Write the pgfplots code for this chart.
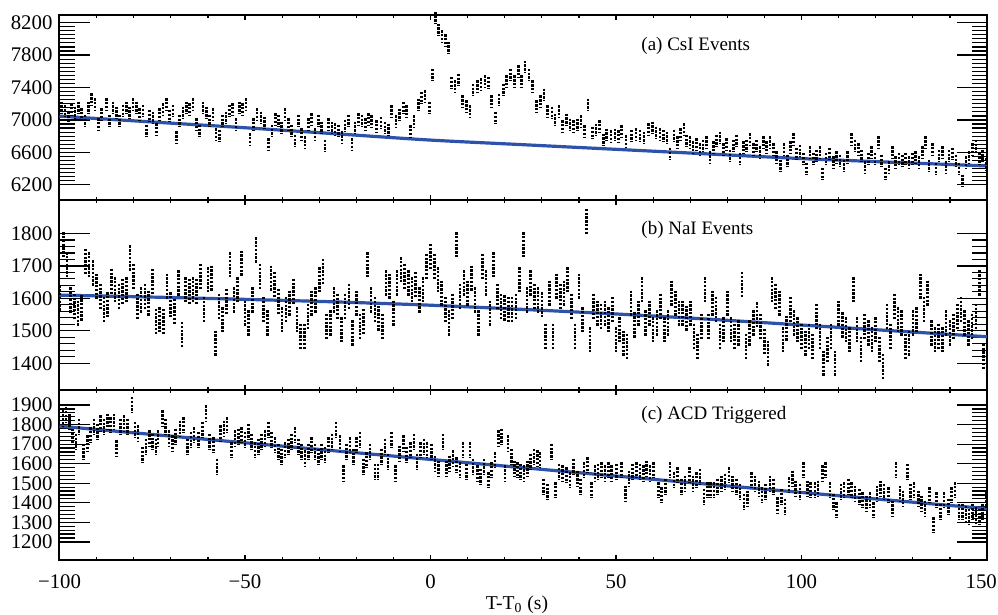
\documentclass[border=0pt]{standalone}
\usepackage{fontspec}
\setmainfont{Liberation Serif}
\usepackage{pgfplots}
\pgfplotsset{compat=1.18}
\usepackage{pgfplotstable}
\definecolor{fitblue}{RGB}{44,82,170}

\pgfplotstableread{
x y
-99.4 7150
-98.5 7109
-97.6 7027
-96.7 7129
-95.8 7088
-94.9 7150
-94.0 7068
-93.1 6986
-92.2 7150
-91.3 7252
-90.4 7191
-89.5 6945
-88.6 7068
-87.4 7191
-86.5 6986
-85.6 7150
-84.7 7088
-83.8 6986
-82.9 7109
-82.0 7150
-81.1 7088
-80.2 7191
-79.3 7150
-78.4 7068
-77.5 7109
-76.6 6863
-75.7 7047
-74.8 7027
-73.9 6884
-73.0 7068
-72.1 7129
-71.2 7191
-70.3 7047
-69.4 7109
-68.5 6782
-67.6 6986
-66.7 7088
-65.8 7150
-64.9 7129
-64.0 7191
-63.1 6945
-62.2 6863
-61.3 7150
-60.4 7088
-59.5 6986
-58.6 7068
-57.8 6823
-56.9 6802
-56.0 6986
-55.1 7027
-54.2 7109
-53.3 7129
-52.4 6945
-51.5 7150
-50.6 7129
-49.7 7191
-48.6 6761
-47.7 6945
-46.8 7068
-45.7 7027
-44.8 6966
-43.6 6700
-42.7 6863
-41.8 7007
-41.0 6986
-40.1 6904
-39.2 7068
-38.3 6945
-37.4 6863
-36.5 6741
-35.6 6986
-34.7 6823
-33.8 6720
-32.9 6945
-32.0 7007
-31.1 6823
-30.2 6986
-29.3 6904
-28.4 6679
-27.5 6945
-26.6 6904
-25.7 6884
-24.8 6863
-23.9 6782
-23.0 6925
-22.1 6986
-21.2 6700
-20.3 6904
-19.4 7007
-18.5 6986
-17.6 6945
-16.7 7007
-15.9 6981
-14.5 6920
-13.3 6961
-12.3 6900
-11.4 6879
-10.5 7104
-9.3 6981
-8.4 7063
-7.3 7145
-6.4 7104
-5.4 6859
-4.4 6981
-3.3 7186
-2.4 7268
-1.5 7288
-0.3 7145
0.6 7554
1.3 8260
2.2 8110
3.1 8030
4.0 7980
4.8 7890
5.7 7452
6.6 7411
7.5 7493
8.7 7227
9.7 7165
10.6 7104
11.5 7370
12.6 7411
13.6 7439
14.7 7472
15.6 7452
16.5 7227
17.6 7022
18.5 7247
19.6 7370
20.5 7472
21.6 7554
22.6 7472
23.7 7595
24.6 7472
25.5 7656
26.5 7554
27.5 7411
28.6 7165
29.7 7227
30.6 7309
31.6 7104
32.7 7084
33.6 7002
34.6 7104
35.6 6920
36.7 7002
37.6 6940
38.5 6920
39.6 6940
40.6 6981
41.5 6859
42.5 7186
43.6 6838
44.6 6879
45.5 6920
46.6 6756
47.5 6818
48.6 6797
49.7 6818
50.6 6797
51.5 6859
52.7 6736
54.2 6802
55.4 6822
56.5 6802
57.5 6781
58.7 6884
59.8 6904
60.8 6843
61.9 6822
62.8 6802
63.7 6781
64.6 6577
65.6 6802
66.5 6720
67.4 6822
68.3 6884
69.0 6740
69.9 6720
70.8 6659
71.7 6700
72.6 6638
73.5 6679
74.4 6720
75.3 6536
76.2 6659
77.1 6740
78.0 6781
78.9 6638
79.8 6700
80.7 6556
81.6 6679
82.5 6740
83.4 6516
84.3 6659
85.2 6679
86.1 6761
87.0 6638
87.9 6679
88.8 6597
89.7 6720
90.6 6659
91.5 6720
92.4 6638
93.3 6536
94.4 6434
95.3 6638
96.2 6495
97.1 6659
97.8 6761
98.7 6577
99.6 6618
100.5 6516
101.4 6393
102.3 6597
103.2 6516
104.1 6556
105.0 6597
105.6 6331
106.6 6516
107.5 6577
108.6 6475
109.5 6536
110.4 6495
111.5 6434
112.4 6536
113.5 6761
114.4 6679
115.3 6638
116.2 6556
117.1 6413
118.0 6516
118.9 6597
119.8 6516
120.7 6720
121.6 6495
122.7 6331
123.6 6413
124.5 6597
125.4 6475
126.3 6516
127.2 6495
128.1 6516
129.0 6475
129.9 6516
130.8 6536
131.7 6475
132.6 6597
133.5 6720
134.4 6434
135.3 6638
136.2 6393
137.1 6556
138.0 6597
138.9 6413
139.8 6556
140.7 6577
141.6 6495
142.5 6393
143.4 6250
144.3 6475
145.2 6536
146.1 6638
147.0 6679
147.9 6516
148.8 6556
149.7 6450
}\csidata

\pgfplotstableread{
x y
-100 1600
-99 1764
-98 1702
-97 1594
-96 1574
-95 1553
-94 1569
-93 1712
-92 1702
-91 1677
-90 1636
-89 1605
-88 1564
-87 1579
-86 1651
-85 1625
-84 1605
-83 1620
-82 1625
-81 1723
-80 1666
-79 1574
-78 1594
-77 1605
-76 1584
-75 1651
-74 1528
-73 1533
-72 1528
-71 1636
-70 1579
-69 1559
-68 1646
-67 1487
-66 1625
-65 1620
-64 1625
-63 1620
-62 1666
-61 1564
-60 1656
-59 1661
-58 1461
-57 1574
-56 1533
-55 1589
-54 1702
-53 1594
-52 1625
-51 1707
-50 1553
-49 1523
-48 1594
-47 1748
-46 1666
-45 1564
-44 1523
-43 1661
-42 1641
-41 1589
-40 1533
-39 1564
-38 1584
-37 1620
-36 1533
-35 1482
-34 1482
-33 1543
-32 1584
-31 1594
-30 1656
-29 1682
-28 1512
-27 1523
-26 1594
-25 1574
-24 1502
-23 1574
-22 1605
-21 1492
-20 1584
-19 1512
-18 1528
-17 1702
-16 1594
-15 1564
-14 1538
-13 1512
-12 1646
-11 1636
-10 1553
-9 1646
-8 1687
-7 1666
-6 1646
-5 1625
-4 1641
-3 1594
-2 1625
-1 1697
0 1728
1 1697
2 1656
3 1615
4 1564
5 1523
6 1574
7 1764
8 1605
9 1646
10 1615
11 1661
12 1594
13 1523
14 1697
15 1646
16 1553
17 1702
18 1605
19 1574
20 1569
21 1564
22 1564
23 1574
24 1656
25 1764
26 1594
27 1646
28 1605
29 1594
30 1579
31 1482
32 1615
33 1482
34 1636
35 1605
36 1615
37 1656
38 1574
39 1482
40 1636
41 1533
42 1836
43 1471
44 1574
45 1553
46 1543
47 1553
48 1533
49 1564
50 1471
51 1502
52 1461
53 1451
54 1584
55 1517
56 1553
57 1625
58 1523
59 1553
60 1502
61 1523
62 1574
63 1502
64 1523
65 1615
66 1584
67 1553
68 1553
69 1538
70 1553
71 1482
72 1451
73 1512
74 1625
75 1512
76 1584
77 1564
78 1482
79 1502
80 1584
81 1502
82 1482
83 1492
84 1641
85 1451
86 1492
87 1523
88 1548
89 1512
90 1466
91 1430
92 1625
93 1605
94 1584
95 1471
96 1507
97 1564
98 1523
99 1502
100 1482
101 1461
102 1482
103 1451
104 1543
105 1482
106 1399
107 1441
108 1482
109 1399
110 1553
111 1517
112 1502
113 1471
114 1625
115 1502
116 1441
117 1512
118 1492
119 1471
120 1502
121 1441
122 1389
123 1543
124 1482
125 1574
126 1533
127 1523
128 1451
129 1461
130 1523
131 1533
132 1636
133 1564
134 1615
135 1492
136 1471
137 1482
138 1471
139 1523
140 1492
141 1512
142 1543
143 1564
144 1523
145 1492
146 1512
147 1543
148 1646
149 1420
}\naidata

\pgfplotstableread{
x y
-99.1 1832
-98.2 1849
-97.3 1815
-96.5 1738
-95.6 1712
-94.7 1789
-93.6 1661
-92.5 1704
-91.6 1746
-90.7 1789
-89.8 1763
-88.9 1806
-88.0 1789
-87.1 1815
-86.2 1797
-85.3 1815
-84.6 1678
-83.5 1789
-82.6 1806
-81.7 1789
-80.5 1900
-79.6 1772
-78.8 1755
-77.6 1644
-76.7 1686
-75.8 1729
-74.9 1712
-74.0 1686
-73.4 1729
-72.3 1832
-71.4 1789
-70.5 1729
-69.6 1704
-68.7 1738
-67.5 1780
-66.6 1797
-65.5 1686
-64.6 1721
-63.7 1746
-62.6 1721
-61.4 1772
-60.5 1857
-59.6 1712
-58.5 1695
-57.5 1584
-56.6 1755
-55.7 1780
-54.8 1797
-53.6 1669
-52.7 1729
-51.8 1738
-50.9 1746
-50.0 1721
-49.1 1763
-48.2 1712
-47.3 1669
-46.4 1686
-45.5 1712
-44.6 1729
-43.7 1772
-42.8 1721
-41.9 1695
-41.0 1661
-40.1 1635
-39.2 1669
-38.3 1686
-37.4 1712
-36.5 1746
-35.6 1686
-34.7 1661
-33.8 1627
-32.9 1661
-32.0 1695
-31.1 1661
-30.2 1635
-29.3 1661
-28.4 1644
-27.5 1695
-26.6 1712
-25.5 1772
-24.4 1704
-23.5 1550
-22.6 1661
-21.7 1695
-20.8 1635
-19.9 1695
-19.0 1721
-18.1 1584
-17.2 1618
-16.3 1661
-15.0 1558
-14.1 1558
-13.2 1635
-12.3 1686
-11.5 1610
-10.5 1721
-9.4 1550
-8.4 1652
-7.3 1704
-6.4 1644
-5.4 1669
-4.5 1712
-3.6 1610
-2.7 1669
-1.8 1686
-0.9 1669
0.3 1661
1.2 1601
2.1 1575
3.4 1712
4.3 1575
5.2 1601
6.1 1627
7.0 1592
7.9 1567
8.8 1669
9.7 1558
10.6 1669
11.5 1584
12.6 1550
13.5 1533
14.4 1584
15.6 1516
16.5 1567
17.4 1618
18.3 1729
19.2 1738
20.1 1550
20.9 1704
21.8 1635
22.6 1575
23.4 1567
24.3 1558
25.2 1550
26.1 1575
27.0 1610
27.9 1635
28.8 1627
29.5 1618
30.4 1481
31.5 1456
32.6 1661
33.7 1464
34.6 1558
35.6 1550
36.7 1541
37.6 1516
38.5 1584
39.6 1524
40.5 1481
41.4 1567
42.3 1592
43.4 1464
44.3 1550
45.2 1558
46.1 1567
47.0 1550
47.9 1567
48.8 1550
50.2 1558
51.5 1567
52.6 1447
53.5 1524
54.5 1558
55.6 1567
56.5 1558
57.4 1550
58.3 1575
59.2 1550
60.1 1567
61.4 1464
62.3 1439
63.4 1481
64.6 1567
65.6 1516
66.5 1541
67.7 1481
68.6 1498
69.8 1541
70.8 1498
71.7 1516
72.6 1533
73.7 1430
74.6 1464
75.5 1464
76.4 1464
77.3 1481
78.5 1498
79.4 1507
80.5 1541
81.4 1498
82.5 1481
83.4 1456
84.5 1404
85.4 1422
86.6 1516
87.5 1498
88.5 1473
89.4 1439
90.3 1456
91.5 1498
92.4 1481
93.5 1387
94.6 1430
95.5 1379
96.6 1490
97.5 1524
98.4 1473
99.6 1456
100.5 1567
101.6 1473
102.5 1464
103.6 1464
104.5 1473
105.6 1550
106.5 1567
107.7 1464
108.6 1404
109.5 1362
110.6 1456
111.5 1464
112.6 1481
113.5 1464
114.4 1447
115.6 1430
116.5 1413
117.6 1396
118.5 1413
119.4 1362
120.3 1447
121.3 1473
122.2 1456
123.4 1439
124.6 1370
125.5 1567
126.5 1447
127.4 1422
128.5 1558
129.4 1456
130.3 1464
131.5 1422
132.4 1396
133.3 1370
134.5 1439
135.5 1285
136.4 1413
137.5 1353
138.4 1413
139.6 1379
140.5 1439
141.4 1464
142.5 1353
143.4 1353
144.3 1345
145.2 1328
146.1 1353
147.0 1336
147.9 1328
148.8 1353
149.7 1413
}\acddata

\pgfplotsset{
  every axis/.append style={
    /pgf/number format/assume math mode=true,
    /pgf/number format/1000 sep={},
  },
  panel/.style={
    scale only axis, width=463.75pt, anchor=south west,
    xmin=-100, xmax=150,
    xtick={-100,-50,0,50,100,150}, minor x tick num=4,
    axis line style={line width=1pt},
    tick style={line width=0.6pt, black},
    major tick length=2.5pt, minor tick length=1.5pt,
    y tick style={/pgfplots/major tick length=15pt, /pgfplots/minor tick length=7.5pt},
    tick align=inside,
    yticklabel style={font=\fontsize{10.4}{12}\selectfont},
    xticklabel style={font=\fontsize{10.4}{12}\selectfont},
  },
  databars/.style={only marks, mark=|, mark size=#1, black,
    mark options={line width=1.3pt, dash pattern=on 1.2pt off 0.7pt, black}},
  fitline/.style={fitblue, line width=1.6pt, smooth, mark=none},
}

\begin{document}
\begin{tikzpicture}
\path[use as bounding box] (0,0) rectangle (499pt,307.5pt);

% (a) CsI
\begin{axis}[panel, at={(29.75pt,207.35pt)}, height=92.5pt,
  ymin=6010, ymax=8290, ytick={6200,6600,...,8200}, minor y tick num=7,
  xticklabels={}]
\addplot[databars=3.1pt] table[x=x,y=y] {\csidata};
\addplot[fitline] coordinates {(-100,7047) (-75,6975) (-50,6904) (-25,6828) (0,6752) (25,6695) (50,6638) (75,6581) (100,6524) (125,6478) (150,6433)};
\node[anchor=west, inner sep=0pt, font=\fontsize{9.5}{11}\selectfont] at (rel axis cs:0.627,0.836) {(a) CsI Events};
\end{axis}

% (b) NaI
\begin{axis}[panel, at={(29.75pt,112.5pt)}, height=94.85pt,
  ymin=1318, ymax=1902, ytick={1400,1500,...,1800}, minor y tick num=4,
  xticklabels={}]
\addplot[databars=6.5pt] table[x=x,y=y] {\naidata};
\addplot[fitline] coordinates {(-100,1610) (-75,1604) (-50,1597) (-25,1589) (0,1579) (25,1566) (50,1552) (75,1536) (100,1518) (125,1500) (150,1482)};
\node[anchor=west, inner sep=0pt, font=\fontsize{9.5}{11}\selectfont] at (rel axis cs:0.627,0.843) {(b) NaI Events};
\end{axis}

% (c) ACD
\begin{axis}[panel, at={(29.75pt,27.35pt)}, height=85.15pt,
  ymin=1106, ymax=1977, ytick={1200,1300,...,1900}, minor y tick num=4,
  xticklabels={−100,−50,0,50,100,\hbox{150\kern5.8pt}},
  xticklabel style={yshift=-3.7pt}]
\addplot[databars=4pt] table[x=x,y=y] {\acddata};
\addplot[fitline] coordinates {(-100,1792) (-50,1707) (0,1622) (50,1537) (100,1453) (150,1370)};
\node[anchor=west, inner sep=0pt, font=\fontsize{9.5}{11}\selectfont] at (rel axis cs:0.627,0.853) {(c) ACD Triggered};
\end{axis}

\node[font=\fontsize{9.8}{12}\selectfont] at (258.5pt,5pt) {T-T\textsubscript{0} (s)};
\end{tikzpicture}
\end{document}
